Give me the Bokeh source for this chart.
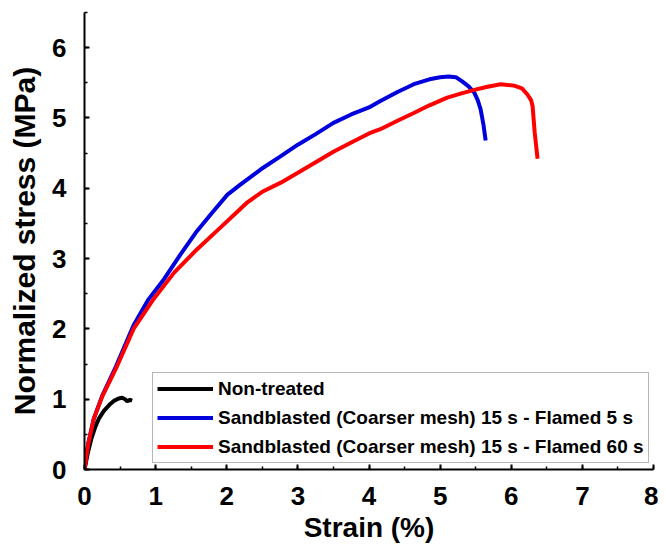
from bokeh.plotting import figure
from bokeh.models import FixedTicker, Legend, LegendItem, Range1d
from bokeh.embed import file_html
from bokeh.resources import INLINE

# ---- data ----
black_x = [0, 0.05, 0.10, 0.15, 0.20, 0.27, 0.35, 0.42, 0.48, 0.53, 0.57, 0.60, 0.64, 0.67]
black_y = [0, 0.25, 0.45, 0.60, 0.72, 0.83, 0.92, 0.98, 1.01, 1.02, 1.00, 0.97, 0.99, 0.98]

blue_x = [0, 0.05, 0.13, 0.25, 0.44, 0.69, 0.90, 1.12, 1.35, 1.58, 1.80, 2.01, 2.20,
          2.48, 2.75, 3.00, 3.25, 3.50, 3.75, 4.00, 4.16, 4.40, 4.63, 4.85, 5.00,
          5.12, 5.22, 5.31, 5.40, 5.48, 5.53, 5.57, 5.61, 5.64]
blue_y = [0, 0.36, 0.72, 1.05, 1.46, 2.05, 2.42, 2.71, 3.06, 3.39, 3.66, 3.91, 4.06,
          4.27, 4.45, 4.62, 4.77, 4.93, 5.05, 5.15, 5.24, 5.37, 5.48, 5.55, 5.58,
          5.59, 5.58, 5.52, 5.45, 5.36, 5.25, 5.12, 4.90, 4.68]

red_x = [0, 0.05, 0.13, 0.25, 0.44, 0.69, 0.975, 1.26, 1.58, 1.91, 2.10, 2.29, 2.50,
         2.76, 3.00, 3.25, 3.50, 3.75, 4.00, 4.16, 4.40, 4.63, 4.85, 5.10, 5.30,
         5.48, 5.65, 5.85, 6.04, 6.15, 6.23, 6.28, 6.30, 6.33, 6.37]
red_y = [0, 0.35, 0.72, 1.04, 1.43, 2.00, 2.43, 2.80, 3.13, 3.44, 3.62, 3.80, 3.95,
         4.08, 4.22, 4.37, 4.52, 4.65, 4.78, 4.84, 4.96, 5.07, 5.18, 5.29, 5.35,
         5.40, 5.44, 5.48, 5.46, 5.42, 5.33, 5.25, 5.17, 4.79, 4.42]

labels = ["Non-treated",
          "Sandblasted (Coarser mesh) 15 s - Flamed 5 s",
          "Sandblasted (Coarser mesh) 15 s - Flamed 60 s"]

x_ticks = [0, 1, 2, 3, 4, 5, 6, 7, 8]
y_ticks = [0, 1, 2, 3, 4, 5, 6]

FONT = "Liberation Sans"

p = figure(width=658, height=545, output_backend="svg", toolbar_location=None,
           x_range=Range1d(0, 8), y_range=Range1d(0, 6.5),
           min_border_left=84, min_border_right=5, min_border_top=12,
           min_border_bottom=74)
p.outline_line_color = None
p.grid.visible = False
p.background_fill_color = "white"
p.border_fill_color = "white"

r_black = p.line(black_x, black_y, line_color="black", line_width=4)
r_blue = p.line(blue_x, blue_y, line_color="#0000dd", line_width=4)
r_red = p.line(red_x, red_y, line_color="#ff0000", line_width=4)

for ax, ticks, minor in ((p.xaxis[0], x_ticks, [i * 0.5 for i in range(17)]),
                         (p.yaxis[0], y_ticks, [i * 0.5 for i in range(14)])):
    ax.ticker = FixedTicker(ticks=ticks, minor_ticks=minor)
    ax.axis_line_width = 2
    ax.axis_line_color = "black"
    ax.major_tick_in = 5
    ax.major_tick_out = 0
    ax.minor_tick_in = 3
    ax.minor_tick_out = 0
    ax.major_tick_line_width = 2
    ax.minor_tick_line_width = 1.5
    ax.major_label_text_font = FONT
    ax.major_label_text_font_style = "bold"
    ax.major_label_text_font_size = "26px"
    ax.major_label_text_color = "black"
    ax.axis_label_text_font = FONT
    ax.axis_label_text_font_style = "bold"
    ax.axis_label_text_color = "black"

p.xaxis.axis_label = "Strain (%)"
p.xaxis.axis_label_text_font_size = "28px"
p.xaxis.major_label_standoff = 17
p.xaxis.axis_label_standoff = 4

p.yaxis.axis_label = "Normalized stress (MPa)"
p.yaxis.axis_label_text_font_size = "30px"
p.yaxis.major_label_standoff = 18
p.yaxis.axis_label_standoff = 8

legend = Legend(items=[LegendItem(label=labels[0], renderers=[r_black]),
                       LegendItem(label=labels[1], renderers=[r_blue]),
                       LegendItem(label=labels[2], renderers=[r_red])],
                location=(68, 6))
legend.label_text_font = FONT
legend.label_text_font_style = "bold"
legend.label_text_font_size = "19px"
legend.label_text_color = "black"
legend.glyph_width = 56
legend.glyph_height = 23
legend.label_standoff = 5
legend.spacing = 6
legend.padding = 4
legend.margin = 0
legend.border_line_color = "#707070"
legend.border_line_width = 1.5
legend.background_fill_alpha = 1
p.add_layout(legend, "center")

open("out.html", "w").write(file_html(p, INLINE))
